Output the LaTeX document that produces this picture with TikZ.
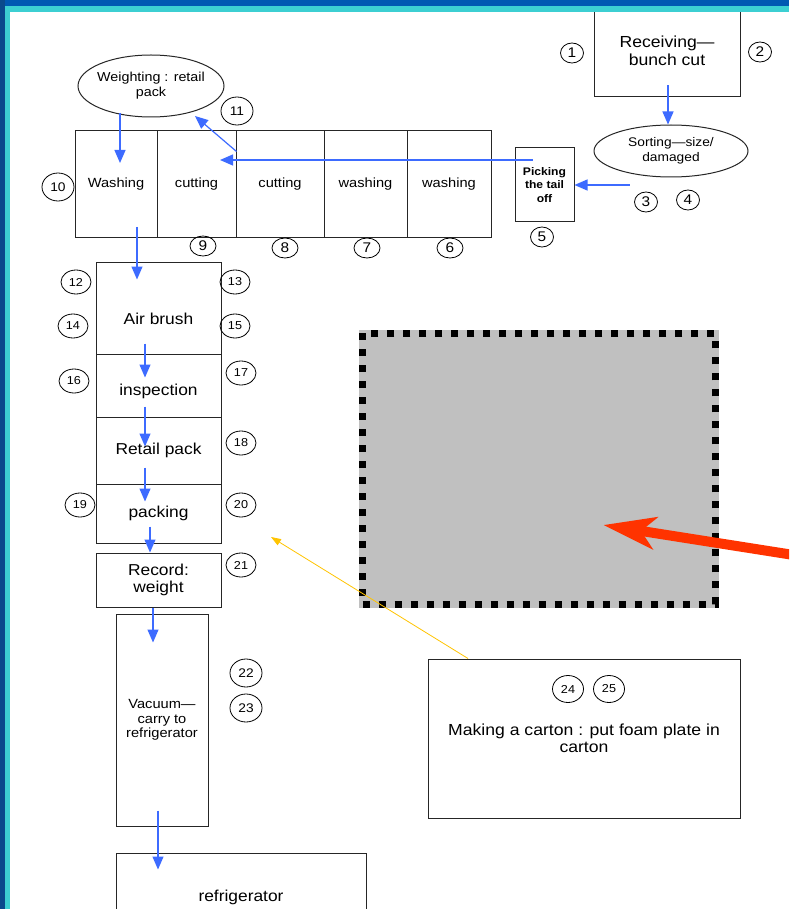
\documentclass[tikz,border=0pt]{standalone}
\usepackage{fontspec}
\setmainfont{Liberation Sans}[FakeStretch=1.1]
\usetikzlibrary{arrows.meta,shapes.geometric}
\definecolor{flowblue}{HTML}{3D6BFF}
\definecolor{topblue}{HTML}{0058B2}
\definecolor{leftblue}{HTML}{0A4A8C}
\definecolor{edgecyan}{HTML}{3CCFD2}
\definecolor{areagray}{HTML}{C0C0C0}
\definecolor{pointred}{HTML}{FF3300}
\definecolor{pointyellow}{HTML}{FFC400}
\newcommand{\fsz}[2]{\fontsize{#1}{#2}\selectfont}
\begin{document}
\begin{tikzpicture}[x=1pt,y=-1pt,
  box/.style={draw=black!85,line width=1pt,inner sep=0pt,align=center},
  oval/.style={ellipse,draw=black!85,line width=1pt,inner sep=0pt},
  num/.style={ellipse,draw=black,line width=0.8pt,inner sep=0pt,minimum width=30pt,minimum height=24pt,font=\fsz{11.5}{12}},
  bignum/.style={num,minimum width=32pt,minimum height=28pt,font=\fsz{12.5}{13}},
  snum/.style={num,minimum width=23pt,minimum height=20pt,font=\fsz{14}{14}},
  flow/.style={draw=flowblue,line width=1.2pt,-{Triangle[length=13pt,width=11pt]}},
  rowtext/.style={font=\fsz{13.3}{15}},
  coltext/.style={font=\fsz{15.8}{17}}
]
\useasboundingbox (0,0) rectangle (789,909);
\clip (0,0) rectangle (789,909);
\fill[white] (0,0) rectangle (789,909);

% top area
\node[box,minimum width=146pt,minimum height=93pt,font=\fsz{16}{18}] (rec) at (667,50.5) {Receiving—\\bunch cut};
\node[oval,minimum width=154pt,minimum height=52pt,
  label={[font=\fsz{12.5}{15},align=center]center:Sorting—size/\\damaged}] (sort) at (671,151) {};
\node[box,minimum width=59pt,minimum height=74pt,font=\bfseries\fsz{11}{13.5}] (pick) at (544.5,185) {Picking\\the tail\\off};

% row of stations
\node[box,rowtext,minimum width=82pt,minimum height=106pt] (wash1) at (116,184) {Washing};
\node[box,rowtext,minimum width=79pt,minimum height=106pt] (cut1) at (196.5,184) {cutting};
\node[box,rowtext,minimum width=88pt,minimum height=106pt] (cut2) at (280,184) {cutting};
\node[box,rowtext,minimum width=83pt,minimum height=106pt] (wash2) at (365.5,184) {washing};
\node[box,rowtext,minimum width=84pt,minimum height=106pt] (wash3) at (449,184) {washing};

\node[oval,minimum width=146pt,minimum height=62pt,
  label={[font=\fsz{13}{15},align=center]center:Weighting : retail\\pack}] (weigh) at (151,86) {};

% left column
\node[box,minimum width=125pt,minimum height=92pt,
  label={[coltext,yshift=-11pt]center:Air brush}] (air) at (158.5,308) {};
\node[box,minimum width=125pt,minimum height=63pt,
  label={[coltext,yshift=-5.5pt]center:inspection}] (insp) at (158.5,385.5) {};
\node[box,coltext,minimum width=125pt,minimum height=67pt] (retail) at (158.5,450.5) {Retail pack};
\node[box,coltext,minimum width=125pt,minimum height=59pt] (pack) at (158.5,513.5) {packing};
\node[box,coltext,minimum width=125pt,minimum height=54pt] (record) at (158.5,580) {Record:\\weight};
\node[box,minimum width=92pt,minimum height=212pt,font=\fsz{13.3}{14.5}] (vac) at (162,720) {Vacuum—\\carry to\\refrigerator};
\node[box,coltext,minimum width=250pt,minimum height=88pt] (fridge) at (241,897) {refrigerator};

% gray area and carton
\node[draw=black,fill=areagray,line width=7pt,dash pattern=on 7pt off 9pt,
  preaction={draw=areagray,line width=7pt,solid},
  minimum width=352.3pt,minimum height=271pt,inner sep=0pt] (gray) at (538.85,468.5) {};
\node[box,minimum width=312pt,minimum height=159pt,font=\fsz{16}{17}] (carton) at (584,738.5) {Making a carton : put foam plate in\\carton};

% numbers
\node[snum] (n1) at (572,53) {1};
\node[snum] (n2) at (760,52) {2};
\node[snum] (n3) at (646,202) {3};
\node[snum] (n4) at (688,200) {4};
\node[snum] (n5) at (542,237) {5};
\node[snum,minimum width=26pt] (n6) at (450,248) {6};
\node[snum,minimum width=26pt] (n7) at (367,248) {7};
\node[snum,minimum width=26pt] (n8) at (285,248) {8};
\node[snum,minimum width=26pt] (n9) at (203,246) {9};
\node[bignum] (n10) at (58,187) {10};
\node[bignum] (n11) at (237,111) {11};
\node[num] (n12) at (76,282) {12};
\node[num] (n13) at (235,282) {13};
\node[num] (n14) at (73,326) {14};
\node[num] (n15) at (235,326) {15};
\node[num] (n16) at (74,381) {16};
\node[num] (n17) at (241,373) {17};
\node[num] (n18) at (241,443) {18};
\node[num] (n19) at (80,505) {19};
\node[num] (n20) at (241,505) {20};
\node[num] (n21) at (241,565) {21};
\node[bignum] (n22) at (246,673) {22};
\node[bignum] (n23) at (246,708) {23};
\node[num,minimum width=31pt,minimum height=27pt] (n24) at (568,689) {24};
\node[num,minimum width=31pt,minimum height=27pt] (n25) at (609,689) {25};

% flow arrows
\draw[flow] ([xshift=1pt,yshift=12pt]rec.south) -- ([xshift=-3pt]sort.north);
\draw[flow] ([xshift=55pt]pick.east) -- (pick.east);
\draw[flow] ([xshift=-11.5pt,yshift=25pt]pick.center) -- ([xshift=23.5pt,yshift=24pt]cut1.center);
\draw[flow] ([yshift=-21pt]cut1.north east) -- ([xshift=44pt,yshift=-30pt]weigh.center);
\draw[flow] ([xshift=-31pt,yshift=-27pt]weigh.center) -- ([xshift=4pt,yshift=21pt]wash1.center);
\draw[flow] ([xshift=21pt,yshift=-43pt]wash1.center) -- ([xshift=-21.5pt,yshift=-18pt]air.north);
\draw[flow] ([xshift=-13.5pt,yshift=11pt]air.south) -- ([xshift=-13.5pt,yshift=-24pt]insp.north);
\draw[flow] ([xshift=-13.5pt,yshift=11pt]insp.south) -- ([xshift=-13.5pt,yshift=-30pt]retail.north);
\draw[flow] ([xshift=-13.5pt,yshift=17pt]retail.south) -- ([xshift=-13.5pt,yshift=-18pt]pack.north);
\draw[flow] ([xshift=-8.5pt,yshift=17pt]pack.south) -- ([xshift=-8.5pt]record.north);
\draw[flow] ([xshift=-5.5pt]record.south) -- ([xshift=-9pt,yshift=-29pt]vac.north);
\draw[flow] ([xshift=-4pt,yshift=16pt]vac.south) -- ([xshift=-83pt,yshift=-17pt]fridge.north);

% pointers
\coordinate (ytip) at (271,537);
\draw[draw=pointyellow,line width=0.8pt,-{Triangle[length=10pt,width=7pt]}] ([xshift=-116pt]carton.north) -- (ytip);
\coordinate (rstart) at (800,556);
\draw[draw=pointred,line width=10pt,-{Stealth[length=52pt,width=32pt,inset=14pt]}] (rstart) -- ([xshift=64.5pt,yshift=-56.5pt]gray.center);

% frame
\fill[topblue] (0,0) rectangle (789,6);
\fill[edgecyan] (4,6) rectangle (789,12);
\fill[edgecyan] (4,6) rectangle (10,909);
\fill[leftblue] (0,0) rectangle (4.5,909);
\end{tikzpicture}
\end{document}
